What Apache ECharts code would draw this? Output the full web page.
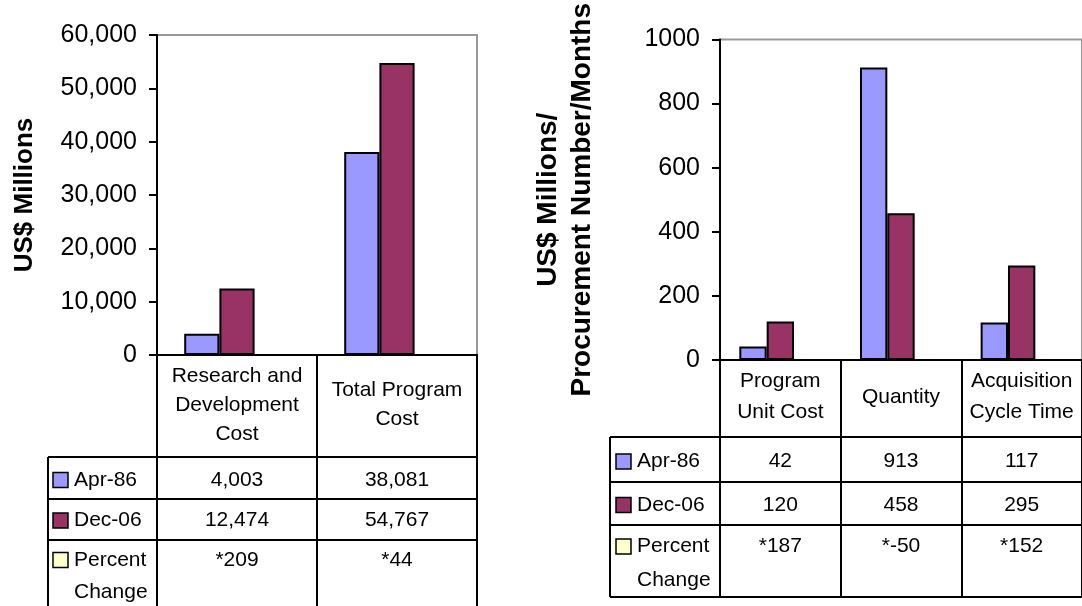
<!DOCTYPE html>
<html>
<head>
<meta charset="utf-8">
<script src="https://cdn.jsdelivr.net/npm/echarts@6/dist/echarts.min.js"></script>
<style>
  html, body { margin: 0; padding: 0; background: #fff; }
  #chart { width: 1082px; height: 606px; }
</style>
</head>
<body>
<div id="chart"></div>
<script>
// Cost panel
const costCategories = ['Research and\nDevelopment\nCost', 'Total Program\nCost'];
const costApr86 = [4003, 38081];
const costDec06 = [12474, 54767];
const costPercentChange = ['*209', '*44'];

// Unit cost / quantity / cycle time panel
const unitCategories = ['Program\nUnit Cost', 'Quantity', 'Acquisition\nCycle Time'];
const unitApr86 = [42, 913, 117];
const unitDec06 = [120, 458, 295];
const unitPercentChange = ['*187', '*-50', '*152'];

const seriesNames = ['Apr-86', 'Dec-06', 'Percent Change'];
const seriesLegendText = ['Apr-86', 'Dec-06', 'Percent\nChange'];
const seriesColors = ['#9999FF', '#993366', '#FFFFCC'];

const FONT = '"Liberation Sans", Arial, sans-serif';
const fmt = v => typeof v === 'number' ? v.toLocaleString('en-US') : v;

const chart = echarts.init(document.getElementById('chart'), null, { renderer: 'canvas' });

function barSeries(xIdx, yIdx, values) {
  return values.map((data, i) => ({
    name: seriesNames[i],
    type: 'bar',
    xAxisIndex: xIdx,
    yAxisIndex: yIdx,
    data: data,
    barGap: 0,
    barCategoryGap: xIdx === 0 ? '34%' : '32%',
    itemStyle: { color: seriesColors[i], borderColor: '#000', borderWidth: 2 },
    animation: false
  }));
}

function xAxisDef(gridIndex, cats, labelMargin, tickLen, fontSize, lineHeight) {
  return {
    type: 'category', gridIndex, data: cats,
    axisLine: { lineStyle: { color: '#000', width: 2 } },
    axisTick: { show: true, alignWithLabel: false, length: tickLen, lineStyle: { color: '#000', width: 2 } },
    axisLabel: {
      interval: 0, margin: labelMargin, verticalAlign: 'middle', align: 'center',
      fontFamily: FONT, fontSize, lineHeight, color: '#000'
    },
    splitLine: { show: false }
  };
}

function yAxisDef(gridIndex, max, interval, name, nameGap, labelSize, nameSize, nameLineHeight, formatter) {
  return {
    type: 'value', gridIndex, min: 0, max, interval,
    name, nameLocation: 'middle', nameGap, nameRotate: 90,
    nameTextStyle: { fontFamily: FONT, fontSize: nameSize, fontWeight: 'bold', color: '#000', lineHeight: nameLineHeight, align: 'center' },
    axisLine: { show: true, lineStyle: { color: '#000', width: 2 } },
    axisTick: { show: true, length: 8, lineStyle: { color: '#000', width: 2 } },
    axisLabel: { fontFamily: FONT, fontSize: labelSize, color: '#000', margin: 20, formatter },
    splitLine: { show: false }
  };
}

chart.setOption({
  backgroundColor: '#fff',
  animation: false,
  grid: [
    { left: 157, top: 35, width: 320, height: 320, show: true, borderColor: '#999', borderWidth: 2, containLabel: false },
    { left: 720, top: 39.5, width: 369, height: 320.5, show: true, borderColor: '#999', borderWidth: 2, containLabel: false }
  ],
  xAxis: [
    xAxisDef(0, costCategories, 50, 262, 21, 29),
    xAxisDef(1, unitCategories, 37, 237, 21, 31)
  ],
  yAxis: [
    yAxisDef(0, 60000, 10000, 'US$ Millions', 117, 25, 26, 30, v => v.toLocaleString('en-US')),
    yAxisDef(1, 1000, 200, 'US$ Millions/\nProcurement Number/Months', 121, 25, 28, 34, v => String(v))
  ],
  series: [
    ...barSeries(0, 0, [costApr86, costDec06, costCategories.map(() => null)]),
    ...barSeries(1, 1, [unitApr86, unitDec06, unitCategories.map(() => null)])
  ]
});

// Data table under each panel: row lines, legend keys and cell values,
// placed from the category axis and the zero line of the value axis.
function tableGraphics(xIdx, yIdx, cats, rowValues, geom) {
  const els = [];
  const centers = cats.map(c => chart.convertToPixel({ xAxisIndex: xIdx }, c));
  const band = cats.length > 1 ? centers[1] - centers[0] : 100;
  const right = centers[centers.length - 1] + band / 2;
  const axisY = chart.convertToPixel({ yAxisIndex: yIdx }, 0);
  let y = axisY + geom.header;
  const lineStyle = { stroke: '#000', lineWidth: 2 };
  const top = y;
  geom.rows.forEach((h, r) => {
    els.push({ type: 'line', shape: { x1: geom.legendLeft, y1: y, x2: right, y2: y }, style: lineStyle, z: 10 });
    const ty = y + geom.textOffset[r];
    // legend key
    els.push({
      type: 'rect',
      shape: { x: geom.keyX, y: ty - 7.5, width: 15, height: 15 },
      style: { fill: seriesColors[r], stroke: '#000', lineWidth: 1.5 }, z: 10
    });
    const legendLines = seriesLegendText[r].split('\n');
    legendLines.forEach((t, k) => {
      els.push({
        type: 'text',
        style: { text: t, x: geom.keyX + 21, y: ty + k * geom.legendLineGap, fontFamily: FONT, fontSize: geom.fontSize, fill: '#000', textAlign: 'left', textVerticalAlign: 'middle' },
        z: 10
      });
    });
    rowValues[r].forEach((v, c) => {
      els.push({
        type: 'text',
        style: { text: fmt(v), x: centers[c], y: ty, fontFamily: FONT, fontSize: geom.fontSize, fill: '#000', textAlign: 'center', textVerticalAlign: 'middle' },
        z: 10
      });
    });
    y += h;
  });
  if (geom.closeBottom) {
    els.push({ type: 'line', shape: { x1: geom.legendLeft, y1: y, x2: right, y2: y }, style: lineStyle, z: 10 });
  }
  els.push({ type: 'line', shape: { x1: geom.legendLeft, y1: top, x2: geom.legendLeft, y2: y }, style: lineStyle, z: 10 });
  return els;
}

chart.setOption({
  graphic: [
    ...tableGraphics(0, 0, costCategories, [costApr86, costDec06, costPercentChange], {
      header: 102, rows: [42, 41, 80], textOffset: [23, 21.5, 20], legendLeft: 48, keyX: 53,
      fontSize: 21, legendLineGap: 32, closeBottom: false
    }),
    ...tableGraphics(1, 1, unitCategories, [unitApr86, unitDec06, unitPercentChange], {
      header: 77, rows: [45, 43, 72], textOffset: [24.5, 23, 21.5], legendLeft: 610, keyX: 616,
      fontSize: 21, legendLineGap: 34, closeBottom: true
    })
  ]
});
</script>
</body>
</html>
